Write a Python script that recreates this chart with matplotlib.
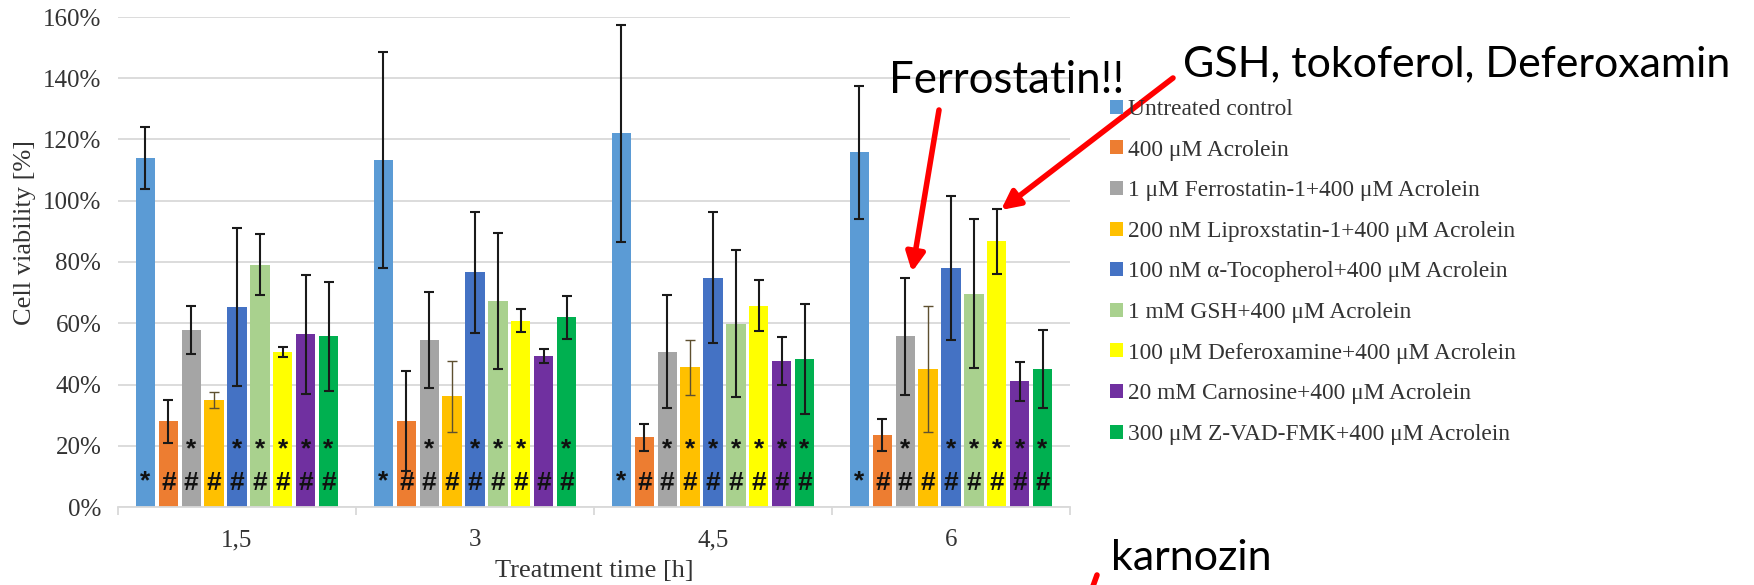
import matplotlib
matplotlib.use("Agg")
import matplotlib.pyplot as plt
import numpy as np
from matplotlib.ticker import PercentFormatter, FixedLocator
from matplotlib.patches import Patch

# ---------------- data ----------------
groups = ['1,5', '3', '4,5', '6']
series = [
    'Untreated control',
    '400 μM Acrolein',
    '1 μM Ferrostatin-1+400 μM Acrolein',
    '200 nM Liproxstatin-1+400 μM Acrolein',
    '100 nM α-Tocopherol+400 μM Acrolein',
    '1 mM GSH+400 μM Acrolein',
    '100 μM Deferoxamine+400 μM Acrolein',
    '20 mM Carnosine+400 μM Acrolein',
    '300 μM Z-VAD-FMK+400 μM Acrolein',
]
colors = ['#5B9BD5', '#ED7D31', '#A5A5A5', '#FFC000', '#4472C4',
          '#A9D18E', '#FFFF00', '#7030A0', '#00B050']

untreated    = [1.140, 1.134, 1.220, 1.158]
acrolein     = [0.280, 0.280, 0.227, 0.235]
ferrostatin  = [0.578, 0.545, 0.507, 0.557]
liproxstatin = [0.349, 0.361, 0.456, 0.450]
tocopherol   = [0.653, 0.766, 0.748, 0.779]
gsh          = [0.791, 0.672, 0.599, 0.697]
deferoxamine = [0.507, 0.608, 0.657, 0.867]
carnosine    = [0.564, 0.493, 0.477, 0.411]
zvad         = [0.557, 0.620, 0.483, 0.450]
means = [untreated, acrolein, ferrostatin, liproxstatin, tocopherol,
         gsh, deferoxamine, carnosine, zvad]

err_untreated    = [0.102, 0.352, 0.355, 0.218]
err_acrolein     = [0.070, 0.163, 0.044, 0.053]
err_ferrostatin  = [0.079, 0.158, 0.184, 0.190]
err_liproxstatin = [0.026, 0.117, 0.090, 0.205]
err_tocopherol   = [0.257, 0.197, 0.214, 0.235]
err_gsh          = [0.100, 0.222, 0.240, 0.243]
err_deferoxamine = [0.016, 0.038, 0.083, 0.106]
err_carnosine    = [0.195, 0.024, 0.079, 0.064]
err_zvad         = [0.178, 0.070, 0.180, 0.127]
errors = [err_untreated, err_acrolein, err_ferrostatin, err_liproxstatin,
          err_tocopherol, err_gsh, err_deferoxamine, err_carnosine, err_zvad]

# significance marks: '*' (upper row), '*' (control, lower row), '#'
star_upper = [
    [0, 0, 0, 0],
    [0, 0, 0, 0],
    [1, 1, 1, 1],
    [0, 0, 1, 0],
    [1, 1, 1, 1],
    [1, 1, 1, 1],
    [1, 1, 1, 1],
    [1, 0, 1, 1],
    [1, 1, 1, 1],
]
star_lower = [[1, 1, 1, 1]] + [[0, 0, 0, 0]] * 8
hash_mark = [[0, 0, 0, 0]] + [[1, 1, 1, 1]] * 8

# ---------------- figure ----------------
W, H = 1754, 585
fig = plt.figure(figsize=(W / 100, H / 100), dpi=100)
ax = fig.add_axes([118 / W, 1 - 507 / H, (1070 - 118) / W, (507 - 17) / H])

serif = 'Liberation Serif'
txtc = '#333333'
gridc = '#d9d9d9'
markc = '#111111'

n = len(series)
step = 0.0962
width = 0.081
x = np.arange(len(groups))
for i in range(n):
    xi = x + (i - (n - 1) / 2) * step
    ax.bar(xi, means[i], width=width, color=colors[i], zorder=2)
    if i == 3:
        ax.errorbar(xi, means[i], yerr=errors[i], fmt='none', ecolor='#5e5030',
                    elinewidth=1.0, capsize=3.5, capthick=1.0, zorder=3)
    else:
        ax.errorbar(xi, means[i], yerr=errors[i], fmt='none', ecolor='#1a1a1a',
                    elinewidth=1.5, capsize=3.8, capthick=1.5, zorder=3)
    for g in range(len(groups)):
        if star_upper[i][g]:
            ax.text(xi[g], 0.165, '*', ha='center', va='baseline', fontsize=19,
                    fontweight='bold', family='Liberation Sans', color=markc, zorder=4)
        if star_lower[i][g]:
            ax.text(xi[g], 0.060, '*', ha='center', va='baseline', fontsize=19,
                    fontweight='bold', family='Liberation Sans', color=markc, zorder=4)
        if hash_mark[i][g]:
            ax.text(xi[g], 0.055, '#', ha='center', va='baseline', fontsize=19,
                    fontweight='bold', family='Liberation Sans', color=markc, zorder=4)

ax.set_xlim(-0.5, len(groups) - 0.5)
ax.set_ylim(0, 1.6)
ax.set_yticks(np.arange(0, 1.61, 0.2))
ax.yaxis.set_major_formatter(PercentFormatter(1.0, decimals=0))
ax.grid(axis='y', color=gridc, lw=1.3, zorder=0)
ax.set_axisbelow(True)
for s in ['top', 'right', 'left']:
    ax.spines[s].set_visible(False)
ax.spines['bottom'].set_color(gridc)
ax.spines['bottom'].set_linewidth(1.3)

ax.set_xticks(x)
ax.set_xticklabels(groups)
ax.xaxis.set_minor_locator(FixedLocator(np.arange(-0.5, len(groups), 1.0)))
ax.tick_params(axis='x', which='major', length=0, pad=16)
ax.tick_params(axis='x', which='minor', length=6, width=1.3, color=gridc)
ax.tick_params(axis='y', length=0, pad=12)
for lab in ax.get_xticklabels() + ax.get_yticklabels():
    lab.set_family(serif)
    lab.set_fontsize(18)
    lab.set_color(txtc)

ax.set_xlabel('Treatment time [h]', family=serif, fontsize=19, color=txtc)
ax.xaxis.set_label_coords(0.5, -0.108)
ax.set_ylabel('Cell viability [%]', family=serif, fontsize=19, color=txtc)
ax.yaxis.set_label_coords(-0.086, 0.561)

handles = [Patch(facecolor=c, edgecolor='none') for c in colors]
leg = fig.legend(handles, series, loc='upper left',
                 bbox_to_anchor=(1110 / W, 1 - 99 / H), frameon=False,
                 prop={'family': serif, 'size': 16.8}, handlelength=0.55,
                 handleheight=0.55, handletextpad=0.2, labelspacing=0.84,
                 borderpad=0, borderaxespad=0)
for t in leg.get_texts():
    t.set_color(txtc)

# ---------------- overlay annotations ----------------
ann_font = ['Lato', 'DejaVu Sans']
fig.text(889 / W, 1 - 93 / H, 'Ferrostatin!!', family=ann_font, fontsize=31.5,
         ha='left', va='baseline', color='black')
fig.text(1183 / W, 1 - 76 / H, 'GSH, tokoferol, Deferoxamin', family=ann_font,
         fontsize=31, ha='left', va='baseline', color='black')
fig.text(1111 / W, 1 - 570 / H, 'karnozin', family=ann_font, fontsize=31,
         ha='left', va='baseline', color='black')

arrow_kw = dict(arrowstyle='-|>', color='#ff0000', lw=4, mutation_scale=28,
                shrinkA=0, shrinkB=0)
ax.annotate('', xy=(912, H - 272), xytext=(939, H - 110),
            xycoords='figure pixels', textcoords='figure pixels',
            arrowprops=arrow_kw, annotation_clip=False)
ax.annotate('', xy=(1001, H - 210), xytext=(1173, H - 78),
            xycoords='figure pixels', textcoords='figure pixels',
            arrowprops=arrow_kw, annotation_clip=False)
ax.annotate('', xy=(1088, H - 600), xytext=(1097, H - 575),
            xycoords='figure pixels', textcoords='figure pixels',
            arrowprops=dict(arrowstyle='-', color='#ff0000', lw=4,
                            shrinkA=0, shrinkB=0), annotation_clip=False)

fig.savefig('out.png', dpi=100, facecolor='white')
